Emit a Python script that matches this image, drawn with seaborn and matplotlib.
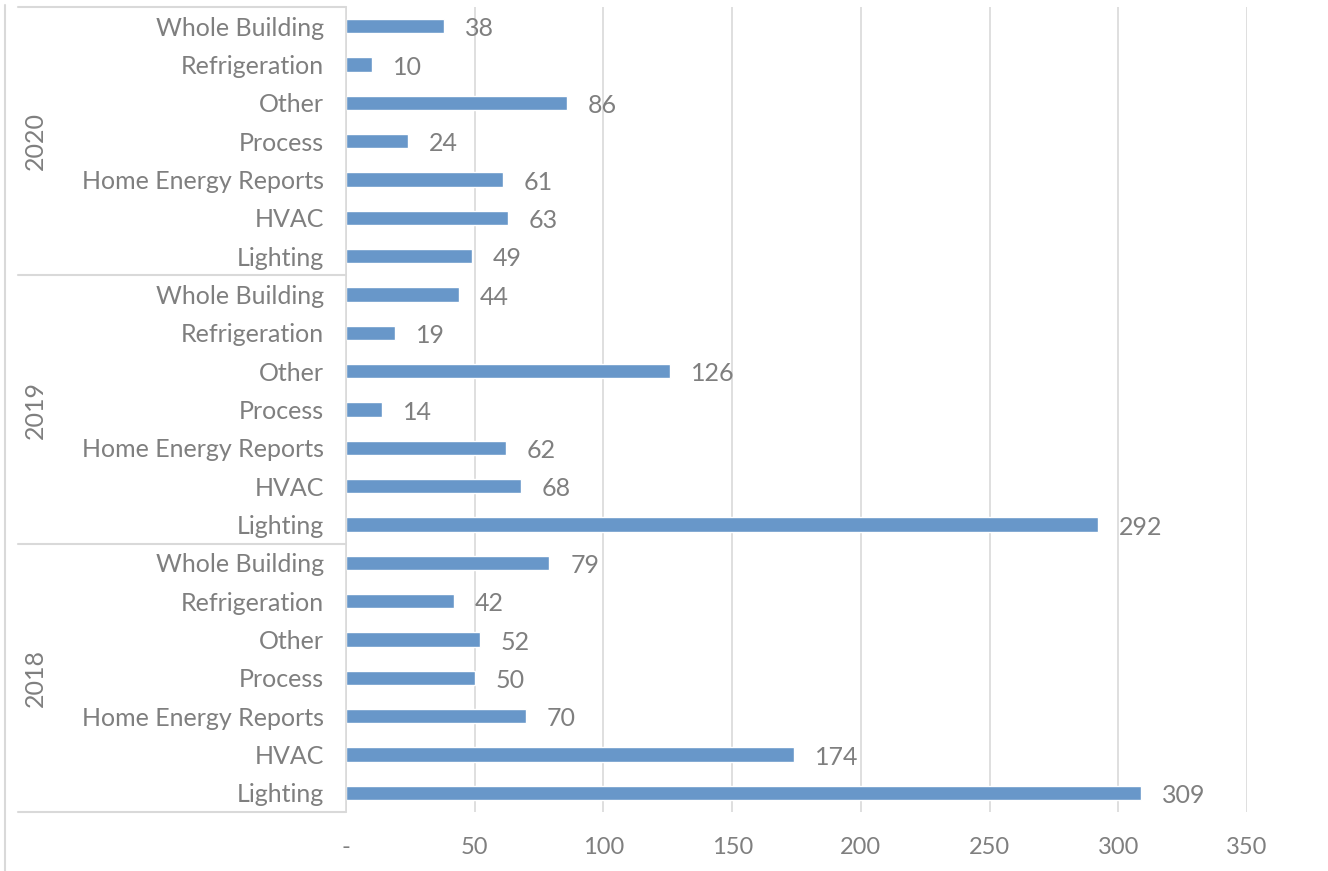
import pandas as pd
import numpy as np
import seaborn as sns
import matplotlib.pyplot as plt
import matplotlib.transforms as mtransforms

# categories, bottom to top inside each year group
measures = ['Lighting', 'HVAC', 'Home Energy Reports', 'Process', 'Other', 'Refrigeration', 'Whole Building']
years = ['2018', '2019', '2020']
vals_2018 = [309, 174, 70, 50, 52, 42, 79]
vals_2019 = [292, 68, 62, 14, 126, 19, 44]
vals_2020 = [49, 63, 61, 24, 86, 10, 38]
xticks = [0, 50, 100, 150, 200, 250, 300, 350]
xtick_labels = ['-', '50', '100', '150', '200', '250', '300', '350']

bar_color = '#6897C9'
text_color = '#7F7F7F'
grid_color = '#D9D9D9'

# build a table, top row first (2020 Whole Building ... 2018 Lighting)
rows = []
for yr, vals in zip(years[::-1], [vals_2020, vals_2019, vals_2018]):
    for m, v in zip(measures[::-1], vals[::-1]):
        rows.append([yr, m, yr + '|' + m, v])
df = pd.DataFrame(rows, columns=['Year', 'Measure', 'Key', 'Value'])

sns.set_theme(style='white')
plt.rcParams['font.family'] = ['Lato', 'DejaVu Sans']

fig = plt.figure(figsize=(13.28, 8.71), dpi=100)
ax = fig.add_axes([346/1328, 1 - 812/871, (1247 - 346)/1328, (812 - 7)/871])

sns.barplot(data=df, x='Value', y='Key', orient='h', color=bar_color,
            width=0.37, saturation=1, ax=ax, order=list(df['Key']))

ax.set_xlim(0, 350)
ax.set_ylim(len(df) - 0.5, -0.5)
ax.set_xticks(xticks)
ax.set_xticklabels(xtick_labels, fontsize=17, color=text_color)
ax.set_yticks(range(len(df)))
ax.set_yticklabels(df['Measure'], fontsize=18, color=text_color)
ax.tick_params(axis='both', length=0)
ax.tick_params(axis='y', pad=16)
ax.tick_params(axis='x', pad=18)
ax.set_xlabel('')
ax.set_ylabel('')
ax.xaxis.grid(True, color=grid_color, linewidth=1.2)
ax.set_axisbelow(True)
for s in ['top', 'right', 'bottom']:
    ax.spines[s].set_visible(False)
ax.spines['left'].set_color(grid_color)
ax.spines['left'].set_linewidth(1.2)

# value labels
for i, v in enumerate(df['Value']):
    ax.annotate(str(v), xy=(v, i), xytext=(15, -2), textcoords='offset points',
                ha='left', va='center', fontsize=18, color=text_color)

# multi-level category axis: group separators and year labels
trans = mtransforms.blended_transform_factory(fig.transFigure, ax.transData)
n = len(measures)
x_left = 18 / 1328
x_axis = 346 / 1328
for k in range(len(years) + 1):
    yb = -0.5 + k * n
    ax.plot([x_left, x_axis], [yb, yb], transform=trans, color=grid_color,
            linewidth=1.5, clip_on=False)
for k, yr in enumerate(years[::-1]):
    yc = k * n + (n - 1) / 2
    ax.text(35 / 1328, yc, yr, transform=trans, rotation=90, ha='center',
            va='center', fontsize=18, color=text_color)

# outer border on the left
fig.add_artist(plt.Line2D([5 / 1328, 5 / 1328], [0, 1 - 5/871], color=grid_color, linewidth=1.5))

fig.savefig('out.png', dpi=100)
